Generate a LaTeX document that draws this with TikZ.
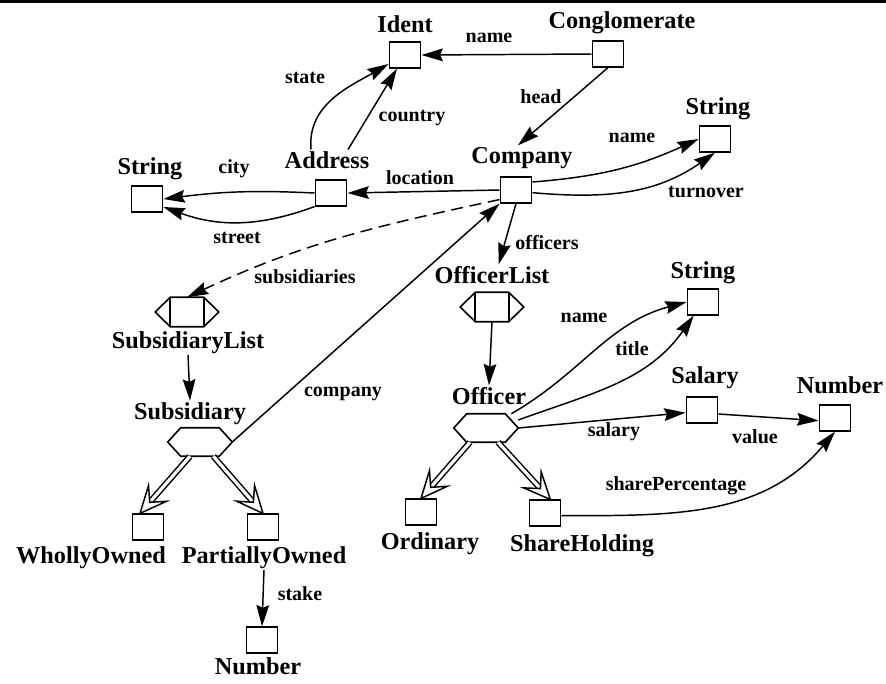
\documentclass[tikz,border=0pt]{standalone}
\usepackage{fontspec}
\setmainfont{Liberation Serif}
\usetikzlibrary{arrows.meta,calc}

\tikzset{
  box/.style={draw, line width=1.2pt, minimum width=23.5pt, minimum height=19.2pt, inner sep=0pt},
  hexbox/.style={minimum width=48pt, minimum height=21pt, inner sep=0pt},
  listbox/.style={minimum width=47.25pt, minimum height=21.75pt, inner sep=0pt},
  outline/.style={line width=1.2pt, line join=miter},
  tname/.style={font=\bfseries\fontsize{18.2}{20}\selectfont, anchor=base, inner sep=1pt},
  tlabel/.style={font=\bfseries\fontsize{15}{17}\selectfont, inner sep=1pt},
  link/.style={line width=1.1pt, -{Stealth[length=16pt,width=9.5pt,inset=2pt]}},
  isaline/.style={double, double distance=2.4pt, line width=1.1pt, shorten >=12.5pt},
}

% hexagon round a hexbox node
\newcommand{\drawhex}[1]{%
  \draw[outline] (#1.west) -- ([xshift=9.75pt]#1.north west) -- ([xshift=-9.75pt]#1.north east)
    -- (#1.east) -- ([xshift=-9.75pt]#1.south east) -- ([xshift=9.75pt]#1.south west) -- cycle;}
% list shape round a listbox node
\newcommand{\drawlist}[1]{%
  \draw[outline] (#1.west) -- ([xshift=11.25pt]#1.north west) -- ([xshift=-11.25pt]#1.north east)
    -- (#1.east) -- ([xshift=-11.25pt]#1.south east) -- ([xshift=11.25pt]#1.south west) -- cycle;
  \draw[outline] ([xshift=11.25pt]#1.north west) -- ([xshift=11.25pt]#1.south west)
    ([xshift=-11.25pt]#1.north east) -- ([xshift=-11.25pt]#1.south east);}
% double line with open head
\newcommand{\drawisa}[2]{%
  \draw[isaline] (#1) -- (#2);
  \draw[outline, line width=1.1pt] (#2) -- ($(#2)!21.9pt!24.2:(#1)$) -- ($(#2)!11pt!(#1)$)
    -- ($(#2)!21.9pt!-24.2:(#1)$) -- cycle;}

\begin{document}
\begin{tikzpicture}[x=0.75pt, y=-0.75pt]
    \useasboundingbox (0,0) rectangle (886,683);
    \draw[line width=2.25pt] (0,1.5) -- (886,1.5);

    % Boxes
    \node[box] (ident) at (405,55) {};
    \node[box] (congl) at (608,54) {};
    \node[box] (addr) at (331,193) {};
    \node[box] (strA) at (147,199) {};
    \node[box] (comp) at (516,190) {};
    \node[box] (strB) at (715,139) {};
    \node[box] (strC) at (703,302) {};
    \node[box] (salary) at (702,410) {};
    \node[box] (numA) at (835,418) {};
    \node[box] (wholly) at (148,527) {};
    \node[box] (partial) at (263,527) {};
    \node[box] (numB) at (262,640) {};
    \node[box] (ordinary) at (421,512) {};
    \node[box] (share) at (545,513) {};

    % Lists and choices
    \node[listbox] (subList) at (187,312) {};
    \node[listbox] (offList) at (492,307) {};
    \node[hexbox] (subsid) at (200,442) {};
    \node[hexbox] (officer) at (486,428) {};
    \drawlist{subList}
    \drawlist{offList}
    \drawhex{subsid}
    \drawhex{officer}

    % Type names
    \node[tname] (tIdent) at (405,32) {Ident};
    \node[tname] (tCongl) at (622,28) {Conglomerate};
    \node[tname] (tAddr) at (327,168) {Address};
    \node[tname] (tStrA) at (150,174) {String};
    \node[tname] (tComp) at (522,163) {Company};
    \node[tname] (tStrB) at (718,114) {String};
    \node[tname] (tOffList) at (492,283) {OfficerList};
    \node[tname] (tStrC) at (703,278) {String};
    \node[tname] (tSalary) at (705,383) {Salary};
    \node[tname] (tNumA) at (840,393) {Number};
    \node[tname] (tSubList) at (188,348) {SubsidiaryList};
    \node[tname] (tSubsid) at (190,419) {Subsidiary};
    \node[tname] (tOfficer) at (489,404) {Officer};
    \node[tname] (tWholly) at (91,563) {WhollyOwned};
    \node[tname] (tPartial) at (264,563) {PartiallyOwned};
    \node[tname] (tNumB) at (258,674) {Number};
    \node[tname] (tOrdinary) at (430,549) {Ordinary};
    \node[tname] (tShare) at (582,551) {ShareHolding};

    % Edge labels
    \node[tlabel] (lName1) at (489,38) {name};
    \node[tlabel] (lHead) at (541,97) {head};
    \node[tlabel] (lState) at (305,78) {state};
    \node[tlabel] (lCountry) at (412,118) {country};
    \node[tlabel] (lCity) at (234,169) {city};
    \node[tlabel] (lLocation) at (420,178) {location};
    \node[tlabel] (lName2) at (632,138) {name};
    \node[tlabel] (lTurnover) at (706,192) {turnover};
    \node[tlabel] (lStreet) at (237,238) {street};
    \node[tlabel] (lSubs) at (305,277) {subsidiaries};
    \node[tlabel] (lOfficers) at (547,243) {officers};
    \node[tlabel] (lCompany) at (343,394) {company};
    \node[tlabel] (lName3) at (584,318) {name};
    \node[tlabel] (lTitle) at (632,349) {title};
    \node[tlabel] (lSalary) at (614,432) {salary};
    \node[tlabel] (lValue) at (755,437) {value};
    \node[tlabel] (lShare) at (676,486) {sharePercentage};
    \node[tlabel] (lStake) at (300,594) {stake};

    % Attributes
    \draw[link] (congl.west) -- (ident.east);
    \draw[link] (congl.south) -- ([xshift=-3pt]tComp.north);
    \draw[link] ([xshift=-12pt]tAddr.north) to[out=95, in=210] ([yshift=-6.75pt]ident.west);
    \draw[link] ([xshift=15.75pt]tAddr.north) -- ([xshift=-6pt]ident.south);
    \draw[link] (addr.west) to[bend right=5] (strA.east);
    \draw[link] (addr.south west) to[bend left=20] ([yshift=-6pt]strA.east);
    \draw[link] (comp.west) -- (addr.east);
    \draw[link] ([yshift=6pt]comp.east) to[bend right=10] (strB.west);
    \draw[link] ([yshift=-2pt]comp.east) to[out=-5, in=215] (strB.south);
    \draw[link, dashed, dash pattern=on 9pt off 5pt] ([yshift=3pt]comp.south west) to[out=192, in=25] (subList.north);
    \draw[link] (comp.south) -- ([xshift=5pt]tOffList.north);
    \draw[link] (subsid.east) -- (comp.south west);
    \draw[link] (tSubList.south) -- (tSubsid.north);
    \draw[link] (offList.south) -- (tOfficer.north);
    \draw[link] (tPartial.south) -- (numB.north);
    \draw[link] ([xshift=19pt]officer.north) to[out=30, in=195] (strC.west);
    \draw[link] ([yshift=6pt]officer.east) to[out=20, in=235] ([xshift=-7pt]strC.south);
    \draw[link] (officer.east) -- ([yshift=-2pt]salary.west);
    \draw[link] ([yshift=-3pt]salary.east) -- ([yshift=-2pt]numA.west);
    \draw[link] ([yshift=-2pt]share.east) to[out=0, in=230] (numA.south);

    % Subtypes
    \coordinate (sA) at ([xshift=-7.5pt]subsid.south);
    \coordinate (sB) at ([xshift=10pt]subsid.south);
    \coordinate (oA) at ([xshift=-12pt]officer.south);
    \coordinate (oB) at ([xshift=9pt]officer.south);
    \coordinate (wTop) at ([xshift=-6pt]wholly.north);
    \coordinate (shTop) at ([xshift=4pt]share.north);
    \drawisa{sA}{wTop}
    \drawisa{sB}{partial.north}
    \drawisa{oA}{ordinary.north}
    \drawisa{oB}{shTop}
\end{tikzpicture}
\end{document}
